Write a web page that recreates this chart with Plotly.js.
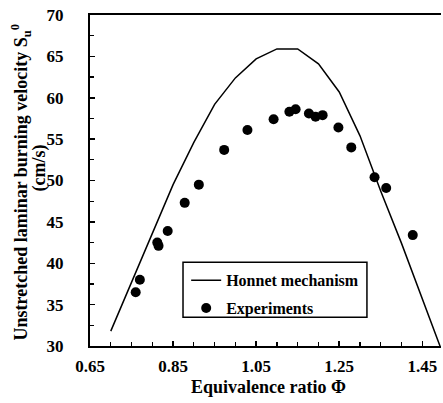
<!DOCTYPE html>
<html>
<head>
<meta charset="utf-8">
<script src="https://cdn.plot.ly/plotly-3.0.1.min.js"></script>
<style>html,body{margin:0;padding:0;background:#fff;}#chart{width:443px;height:403px;}</style>
</head>
<body>
<div id="chart"></div>
<script>
// Honnet mechanism (model curve)
const phiModel = [0.70, 0.75, 0.80, 0.85, 0.90, 0.95, 1.00, 1.05, 1.10, 1.15, 1.20, 1.25, 1.30, 1.35, 1.40, 1.45, 1.50];
const suModel  = [31.8, 37.7, 43.8, 49.5, 54.6, 59.2, 62.4, 64.7, 65.9, 65.9, 64.1, 60.7, 55.4, 48.7, 42.4, 35.6, 29.0];

// Experiments
const phiExp = [0.760, 0.770, 0.812, 0.815, 0.837, 0.878, 0.912, 0.973, 1.029, 1.092, 1.130, 1.145, 1.177, 1.193, 1.210, 1.248, 1.279, 1.335, 1.363, 1.427];
const suExp  = [36.5, 38.0, 42.5, 42.1, 43.9, 47.3, 49.5, 53.7, 56.1, 57.4, 58.3, 58.6, 58.1, 57.7, 57.9, 56.4, 54.0, 50.4, 49.1, 43.4];

const xTickVals = [0.65, 0.85, 1.05, 1.25, 1.45];
const xTickText = ['0.65', '0.85', '1.05', '1.25', '1.45'];
const yTickVals = [30, 35, 40, 45, 50, 55, 60, 65, 70];
const yTickText = ['30', '35', '40', '45', '50', '55', '60', '65', '70'];

const seriesNames = ['Honnet mechanism', 'Experiments'];
const xTitle = 'Equivalence ratio Φ';
const yTitleLine1 = 'Unstretched laminar burning velocity S<sub>u</sub><sup>0</sup>';
const yTitleLine2 = '(cm/s)';

const fontFam = '"Liberation Serif", "Times New Roman", serif';
const bold = s => '<b>' + s + '</b>';

const traces = [
  {
    x: phiModel, y: suModel, type: 'scatter', mode: 'lines',
    name: bold(seriesNames[0]),
    line: {color: '#000', width: 1.5},
    legendgroup: 'a'
  },
  {
    x: phiExp, y: suExp, type: 'scatter', mode: 'markers',
    name: bold(seriesNames[1]),
    marker: {color: '#000', size: 10, symbol: 'circle'},
    legendgroup: 'b'
  }
];

const tickFont = {family: fontFam, size: 17, color: '#000', weight: 700};
const titleFont = {family: fontFam, size: 18, color: '#000', weight: 700};

const layout = {
  width: 443, height: 403,
  margin: {l: 90, r: 2, t: 15, b: 57},
  paper_bgcolor: '#fff', plot_bgcolor: '#fff',
  font: {family: fontFam, color: '#000'},
  showlegend: true,
  legend: {
    x: 0.274, y: 0.250, xanchor: 'left', yanchor: 'top',
    borderwidth: 0, bgcolor: 'rgba(0,0,0,0)',
    font: {family: fontFam, size: 16, color: '#000', weight: 700},
    traceorder: 'grouped', tracegroupgap: 4
  },
  shapes: [{
    type: 'rect', xref: 'paper', yref: 'paper',
    x0: 0.265, x1: 0.789, y0: 0.087, y1: 0.253,
    line: {color: '#000', width: 1.5}, fillcolor: '#fff', layer: 'above'
  }],
  xaxis: {
    range: [0.65, 1.495],
    tickmode: 'array', tickvals: xTickVals, ticktext: xTickText.map(bold),
    ticks: 'inside', ticklen: 5, tickwidth: 1.5, tickcolor: '#000',
    minor: {dtick: 0.05, tick0: 0.65, ticks: 'inside', ticklen: 4, tickwidth: 1.2, tickcolor: '#000', showgrid: false},
    showline: true, linewidth: 2, linecolor: '#000', mirror: true,
    showgrid: false, zeroline: false,
    tickfont: tickFont,
    ticklabelstandoff: 4
  },
  yaxis: {
    range: [30, 70],
    tickmode: 'array', tickvals: yTickVals, ticktext: yTickText.map(bold),
    ticks: 'inside', ticklen: 5, tickwidth: 1.5, tickcolor: '#000',
    minor: {dtick: 2.5, tick0: 30, ticks: 'inside', ticklen: 4, tickwidth: 1.2, tickcolor: '#000', showgrid: false},
    showline: true, linewidth: 2, linecolor: '#000', mirror: false,
    showgrid: false, zeroline: false,
    tickfont: tickFont,
    ticklabelstandoff: 21
  },
  annotations: [
    {
      text: bold(xTitle), xref: 'paper', yref: 'paper', x: 0.5, y: 0,
      xanchor: 'center', yanchor: 'middle', yshift: -41, xshift: 3,
      showarrow: false, font: titleFont
    },
    {
      text: bold(yTitleLine1), xref: 'paper', yref: 'paper', x: 0, y: 0.5,
      xanchor: 'center', yanchor: 'middle', xshift: -69, yshift: -2,
      textangle: -90, showarrow: false, font: titleFont
    },
    {
      text: bold(yTitleLine2), xref: 'paper', yref: 'paper', x: 0, y: 0.5,
      xanchor: 'center', yanchor: 'middle', xshift: -51, yshift: 12,
      textangle: -90, showarrow: false, font: titleFont
    }
  ]
};

Plotly.newPlot('chart', traces, layout, {displayModeBar: false, staticPlot: true});
</script>
</body>
</html>
